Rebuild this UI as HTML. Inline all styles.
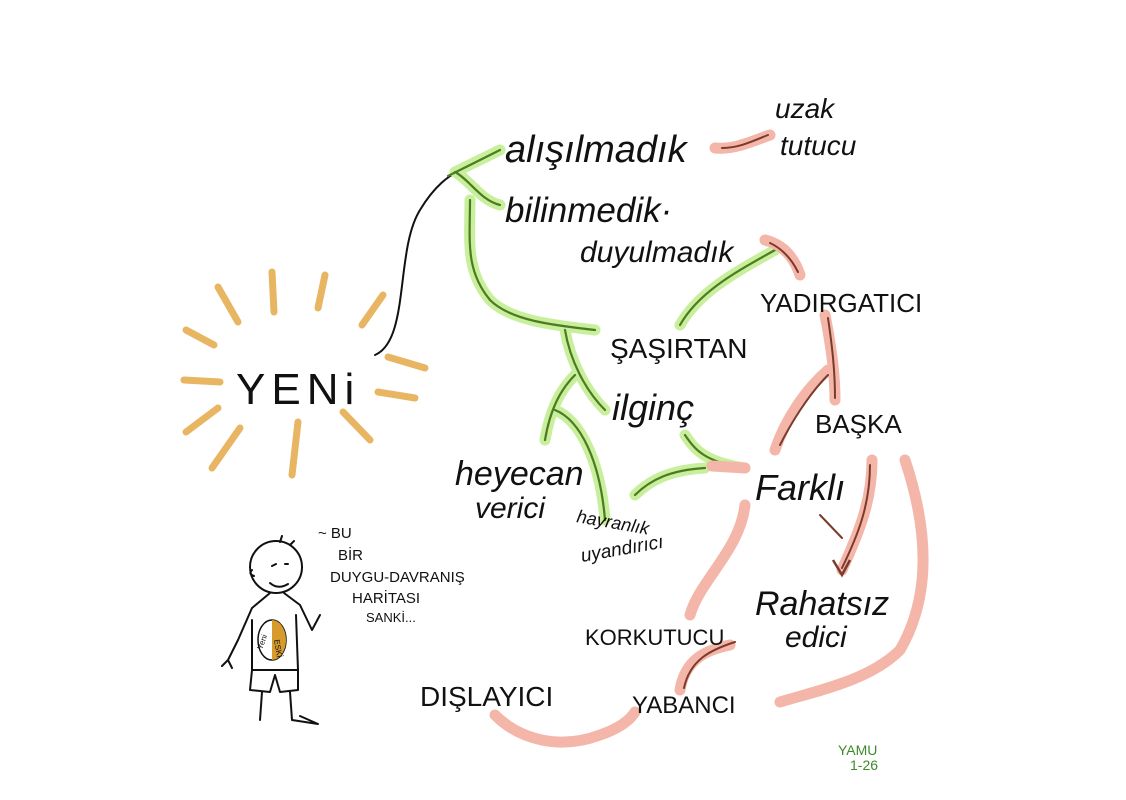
<!DOCTYPE html>
<html><head><meta charset="utf-8"><style>
html,body{margin:0;padding:0;background:#fff;}
svg{display:block;}
text{font-family:"Liberation Sans",sans-serif;fill:#111;}
.g1{fill:none;stroke:#c8ef9c;stroke-width:11;stroke-linecap:round;}
.g2{fill:none;stroke:#4e7a22;stroke-width:2.2;stroke-linecap:round;}
.r1{fill:none;stroke:#f4b6a8;stroke-width:11;stroke-linecap:round;}
.r2{fill:none;stroke:#7a3b2c;stroke-width:2;stroke-linecap:round;}
.ray{stroke:#e8b562;stroke-width:7;stroke-linecap:round;}
.k{fill:none;stroke:#111;stroke-width:2;stroke-linecap:round;stroke-linejoin:round;}
</style></head><body>
<svg width="1126" height="800" viewBox="0 0 1126 800" xmlns="http://www.w3.org/2000/svg">
<rect width="1126" height="800" fill="#fff"/>
<g class="ray">
<line x1="272" y1="272" x2="274" y2="312"/>
<line x1="325" y1="275" x2="318" y2="308"/>
<line x1="218" y1="287" x2="238" y2="322"/>
<line x1="383" y1="295" x2="362" y2="325"/>
<line x1="186" y1="330" x2="214" y2="345"/>
<line x1="388" y1="357" x2="425" y2="368"/>
<line x1="184" y1="380" x2="220" y2="382"/>
<line x1="378" y1="392" x2="415" y2="398"/>
<line x1="186" y1="432" x2="218" y2="408"/>
<line x1="343" y1="412" x2="370" y2="440"/>
<line x1="212" y1="468" x2="240" y2="428"/>
<line x1="298" y1="422" x2="292" y2="475"/>
</g>
<text x="236" y="404" font-size="44" letter-spacing="6">YENi</text>
<path class="k" d="M375 355 C410 340 395 250 420 210 C435 185 450 175 458 172"/>
<path class="g1" d="M455 172 L500 150 M455 172 C470 180 480 200 500 205 M470 200 C470 240 465 270 490 300 C510 320 550 325 595 330 M565 330 C570 360 585 390 605 410 M575 375 C560 390 550 410 545 440 M555 410 C580 420 600 460 605 520 M775 250 C740 270 700 290 680 325 M685 435 C695 450 705 462 745 468 M635 495 C650 480 670 470 705 468"/>
<path class="g2" d="M448 176 L500 150 M455 172 C470 180 480 200 500 205 M470 200 C470 240 465 270 490 300 C510 320 550 325 595 330 M565 330 C570 360 585 390 605 410 M575 375 C560 390 550 410 545 440 M555 410 C580 420 600 460 605 520 M775 250 C740 270 700 290 680 325 M685 435 C695 450 705 462 745 468 M635 495 C650 480 670 470 705 468"/>
<path class="r1" d="M715 148 C735 150 755 140 770 135 M765 240 C785 245 795 260 800 275 M825 315 C830 340 835 370 835 400 M828 370 C805 390 785 420 775 450 M872 460 C872 500 860 530 842 570 M905 460 C925 520 935 590 900 650 C870 680 820 690 780 702 M745 505 C740 550 700 580 690 615 M730 645 C705 650 685 660 680 690 M495 715 C520 740 560 750 600 735 C620 728 630 720 635 712 M712 466 L745 468"/>
<path class="r2" d="M722 148 C740 148 755 140 768 135 M770 243 C785 250 793 262 798 272 M828 318 C832 345 835 370 835 398 M828 375 C808 395 790 425 780 445 M870 465 C870 505 858 535 842 568 M820 515 L842 538 M735 642 C710 650 690 660 684 688"/>
<path d="M833 560 L842 575 L850 560" fill="none" stroke="#7a3b2c" stroke-width="2.5"/>
<g font-style="italic">
<text x="505" y="162" font-size="38">alışılmadık</text>
<text x="505" y="222" font-size="35">bilinmedik·</text>
<text x="580" y="262" font-size="30">duyulmadık</text>
<text x="455" y="485" font-size="34">heyecan</text>
<text x="475" y="518" font-size="30">verici</text>
<text x="612" y="420" font-size="36">ilginç</text>
<text x="576" y="522" font-size="18" transform="rotate(10 576 522)">hayranlık</text>
<text x="582" y="562" font-size="19" transform="rotate(-10 582 562)">uyandırıcı</text>
<text x="755" y="500" font-size="36">Farklı</text>
<text x="755" y="615" font-size="34">Rahatsız</text>
<text x="785" y="647" font-size="30">edici</text>
<text x="775" y="118" font-size="28">uzak</text>
<text x="780" y="155" font-size="28">tutucu</text>
</g>
<text x="760" y="312" font-size="26">YADIRGATICI</text>
<text x="610" y="358" font-size="28">ŞAŞIRTAN</text>
<text x="815" y="433" font-size="26">BAŞKA</text>
<text x="585" y="645" font-size="22">KORKUTUCU</text>
<text x="420" y="706" font-size="28">DIŞLAYICI</text>
<text x="632" y="713" font-size="24">YABANCI</text>
<text x="838" y="755" font-size="14" style="fill:#3f8a2a">YAMU</text>
<text x="850" y="770" font-size="14" style="fill:#3f8a2a">1-26</text>
<g font-size="15">
<text x="318" y="538">~ BU</text>
<text x="338" y="560">BİR</text>
<text x="330" y="582">DUYGU-DAVRANIŞ</text>
<text x="352" y="603">HARİTASI</text>
<text x="366" y="622" font-size="13">SANKİ...</text>
</g>
<g class="k">
<ellipse cx="276" cy="567" rx="26" ry="26"/>
<path d="M270 583 Q278 590 288 584 M272 566 l4 -2 M285 564 l3 0 M280 542 l2 -6 M290 545 l4 -4 M252 570 q-4 4 2 6"/>
<path d="M270 593 L252 608 L238 640 L228 660 M284 593 L300 605 L312 630 L320 615 M252 620 L252 670 L298 670 L296 615 M252 670 L250 690 L270 692 L275 675 L280 692 L298 690 L298 670 M262 692 L260 720 M290 692 L292 720 L318 724 L300 716 M228 660 l-6 6 M228 660 l4 8"/>
</g>
<ellipse cx="272" cy="640" rx="14" ry="20" fill="#fff" stroke="#111" stroke-width="1.5"/>
<path d="M272 620 A14 20 0 0 1 272 660 Z" fill="#d69a2d"/>
<text x="262" y="650" font-size="8" transform="rotate(-70 262 650)">Yeni</text>
<text x="274" y="640" font-size="8" transform="rotate(80 274 640)">ESKİ</text>
</svg>
</body></html>
